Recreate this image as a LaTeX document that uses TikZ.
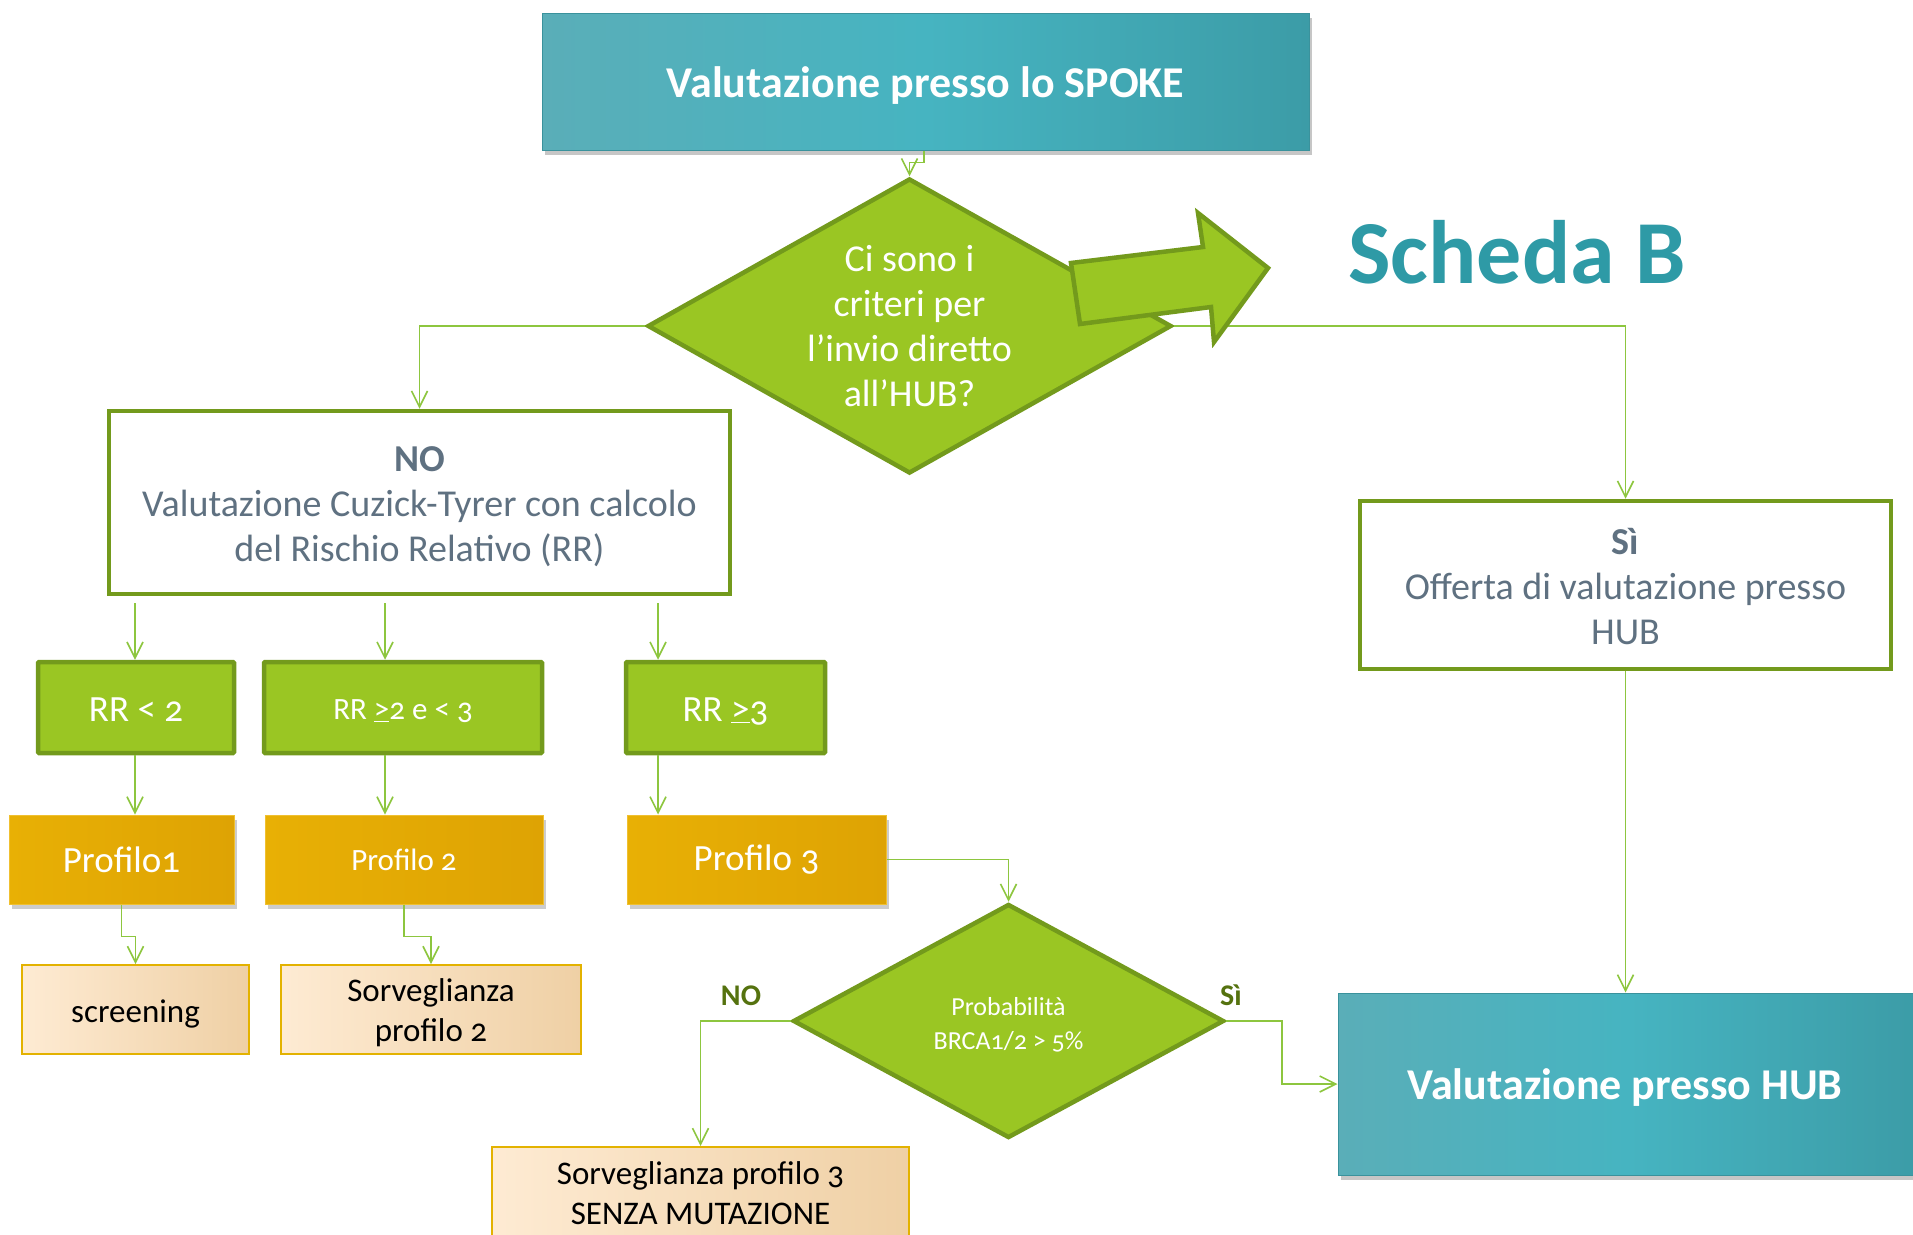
\documentclass[tikz,border=0pt]{standalone}
\usepackage{fontspec}
\setmainfont{Carlito}[Numbers=OldStyle]
\usetikzlibrary{arrows.meta,shapes.geometric,shadows,calc}
\definecolor{lgreen}{HTML}{8DC63F}
\definecolor{fgreen}{HTML}{9AC623}
\definecolor{dgreen}{HTML}{739A1C}
\definecolor{tealL}{HTML}{5AAEB8}
\definecolor{tealM}{HTML}{46B4C1}
\definecolor{tealR}{HTML}{3C9CA7}
\definecolor{tealB}{HTML}{3A929C}
\definecolor{goldL}{HTML}{E8B005}
\definecolor{goldM}{HTML}{FABF0B}
\definecolor{goldR}{HTML}{DEA304}
\definecolor{goldB}{HTML}{F0C030}
\definecolor{peachL}{HTML}{FEEBD3}
\definecolor{peachR}{HTML}{EFD0A5}
\definecolor{peachB}{HTML}{E3B200}
\definecolor{grayT}{HTML}{5F7181}
\definecolor{labelG}{HTML}{55720F}
\definecolor{schedaT}{HTML}{2E9AA6}
% shift the ink of a box down (#1 = twice the shift) or up
\newcommand{\shiftdn}[2]{\raisebox{0pt}[\dimexpr\height+#1\relax][\depth]{#2}}
\newcommand{\shiftup}[2]{\raisebox{0pt}[\height][\dimexpr\depth+#1\relax]{#2}}
\newcommand{\lines}[1]{\begin{tabular}{@{}c@{}}#1\end{tabular}}
\begin{document}
\begin{tikzpicture}[x=1pt,y=-1pt,
  conn/.style={draw=lgreen,line width=1.6pt,-{Straight Barb[length=16pt,width=16pt,line width=1.6pt]}},
  tealbox/.style={rectangle,draw=tealB,line width=1pt,left color=tealL,right color=tealR,middle color=tealM,
    drop shadow={shadow xshift=3pt,shadow yshift=-5pt,opacity=.45},text=white,inner sep=0pt,
    font=\bfseries\fontsize{44}{52}\selectfont},
  whitebox/.style={rectangle,draw=dgreen,line width=4.5pt,fill=white,text=grayT,inner sep=0pt,
    font=\fontsize{38}{45}\selectfont},
  rrbox/.style={rectangle,draw=dgreen,line width=4.5pt,fill=fgreen,text=white,inner sep=0pt,rounded corners=1pt},
  profbox/.style={rectangle,draw=goldB,line width=1pt,left color=goldL,middle color=goldM,right color=goldR,
    drop shadow={shadow xshift=3pt,shadow yshift=-5pt,opacity=.4},text=white,inner sep=0pt},
  peachbox/.style={rectangle,draw=peachB,line width=2pt,left color=peachL,right color=peachR,text=black,
    inner sep=0pt,font=\fontsize{33}{40}\selectfont},
  decision/.style={diamond,draw=dgreen,line width=4.5pt,fill=fgreen,inner sep=0pt},
  dtext/.style={text=white,align=center,inner sep=0pt},
  lbl/.style={text=labelG,font=\bfseries\fontsize{30}{36}\selectfont,inner sep=0pt}]
\useasboundingbox (0,0) rectangle (1913,1234);

% ---- nodes
\node[tealbox,minimum width=767pt,minimum height=137pt] (spoke) at (925.5,81.5) {\shiftdn{8pt}{Valutazione presso lo SPOKE}};
\node[decision,minimum width=524pt,minimum height=295pt] (d1) at (909.5,326) {};
\node[dtext,font=\fontsize{38}{45}\selectfont] (d1t) at (d1.center) {Ci sono i\\criteri per\\l’invio diretto\\all’HUB?};

\node[whitebox,minimum width=621pt,minimum height=183pt] (nobox) at (419.5,502.5)
  {\shiftdn{10pt}{\lines{\textbf{NO}\\Valutazione Cuzick-Tyrer con calcolo\\del Rischio Relativo (RR)}}};
\node[whitebox,minimum width=531pt,minimum height=168pt] (sibox) at (1625.5,585)
  {\shiftdn{11pt}{\lines{\textbf{Sì}\\Offerta di valutazione presso\\HUB}}};

\node[rrbox,minimum width=196pt,minimum height=91pt,font=\fontsize{37}{44}\selectfont] (rr1) at (136,707.5) {\shiftdn{5pt}{RR < 2}};
\node[rrbox,minimum width=278pt,minimum height=91pt,font=\fontsize{31}{38}\selectfont] (rr2) at (403,707.5) {\shiftdn{7pt}{RR \underline{>}2 e < 3}};
\node[rrbox,minimum width=199pt,minimum height=91pt,font=\fontsize{37}{44}\selectfont] (rr3) at (725.5,707.5) {\shiftdn{7pt}{RR \underline{>}3}};

\node[profbox,minimum width=225pt,minimum height=89pt,font=\fontsize{37}{44}\selectfont] (p1) at (121.5,859.5) {Profilo1};
\node[profbox,minimum width=278pt,minimum height=89pt,font=\fontsize{31}{38}\selectfont] (p2) at (404,859.5) {Profilo 2};
\node[profbox,minimum width=259pt,minimum height=89pt,font=\fontsize{37}{44}\selectfont] (p3) at (756.5,859.5) {Profilo 3};

\node[peachbox,minimum width=227pt,minimum height=89pt] (scr) at (135.5,1009.5) {\shiftdn{8pt}{screening}};
\node[peachbox,minimum width=300pt,minimum height=89pt] (sv2) at (431,1009.5) {\shiftdn{8pt}{\lines{Sorveglianza\\profilo 2}}};

\node[decision,minimum width=431pt,minimum height=234pt] (d2) at (1008.5,1021) {};
\node[dtext,font=\fontsize{26}{34}\selectfont] (d2t) at ([yshift=-4pt]d2.center) {Probabilità\\BRCA1/2 > 5\%};

\node[peachbox,minimum width=417pt,minimum height=100pt,anchor=north] (sv3) at (700.5,1146) {\shiftup{2pt}{\lines{Sorveglianza profilo 3\\SENZA MUTAZIONE}}};
\node[tealbox,minimum width=580pt,minimum height=182pt] (hub) at (1628,1084) {\shiftdn{8pt}{\hspace*{-6pt}Valutazione presso HUB}};

\node[lbl,anchor=base] (nolbl) at (741,1005) {NO};
\node[lbl,anchor=base] (silbl) at (1231,1005) {Sì};

\node[font=\bfseries\fontsize{90}{100}\selectfont,text=schedaT,anchor=base] (sch) at (1517,283) {Scheda B};

% ---- connectors
\coordinate (a1) at (135,603);
\coordinate (a2) at (385,603);
\coordinate (a3) at (658,603);
\draw[conn] ([xshift=-1.5pt]spoke.south) -- ++(0,12) -| (d1.north);
\draw[conn] (d1.west) -| (nobox.north);
\draw[conn] (d1.east) -| (sibox.north);
\draw[conn] (a1) -- (a1 |- rr1.north);
\draw[conn] (a2) -- (a2 |- rr2.north);
\draw[conn] (a3) -- (a3 |- rr3.north);
\draw[conn] (a1 |- rr1.south) -- (a1 |- p1.north);
\draw[conn] (a2 |- rr2.south) -- (a2 |- p2.north);
\draw[conn] (a3 |- rr3.south) -- (a3 |- p3.north);
\draw[conn] (p1.south) -- ++(0,32) -| (scr.north);
\draw[conn] (p2.south) -- ++(0,32) -| (sv2.north);
\draw[conn] (p3.east) -| (d2.north);
\draw[conn] (d2.west) -| (sv3.north);
\draw[conn] (d2.east) -- ++(56,0) |- (hub.west);
\draw[conn] (sibox.south) -- (sibox.south |- hub.north);

% ---- block arrow
\draw[fill=fgreen,draw=dgreen,line width=4.5pt,line join=miter]
  (1071,263) -- (1203,247) -- (1198,213) -- (1268,268) -- (1214,342) -- (1211,307) -- (1080,324) -- cycle;
\end{tikzpicture}
\end{document}
